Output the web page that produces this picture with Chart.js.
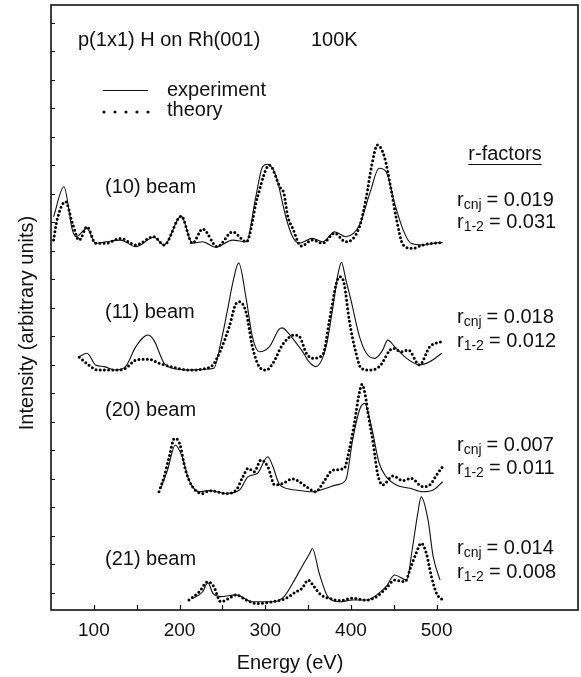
<!DOCTYPE html>
<html>
<head>
<meta charset="utf-8">
<script src="https://cdn.jsdelivr.net/npm/chart.js@4.4.1/dist/chart.umd.min.js"></script>
<style>
  html, body { margin: 0; padding: 0; background: #fff; }
  #wrap { width: 581px; height: 677px; }
</style>
</head>
<body>
<div id="wrap"><canvas id="leedChart" width="581" height="677"></canvas></div>
<script>
// LEED I(V) curves, p(1x1) H on Rh(001), beams stacked with offsets
const beamNames = ['(10) beam', '(11) beam', '(20) beam', '(21) beam'];
const rCnj = ['0.019', '0.018', '0.007', '0.014'];
const r12 = ['0.031', '0.012', '0.011', '0.008'];
const xTickLabels = [100, 200, 300, 400, 500];
const xMinorTicks = [100, 150, 200, 250, 300, 350, 400, 450, 500];

// (10) beam
const b10ExpE = [53, 65, 75, 79, 92, 102, 114, 131, 149, 170, 182, 202, 215, 227, 242, 262, 278, 289, 297, 303, 313, 316, 324, 332, 340, 355, 367, 381, 394, 410, 422, 433, 441, 451, 461, 470, 484, 496, 507];
const b10ExpI = [13.80, 14.85, 13.33, 13.10, 13.39, 12.87, 12.92, 12.98, 12.75, 13.08, 12.81, 13.82, 12.87, 12.92, 12.73, 12.98, 12.92, 14.50, 15.56, 15.64, 15.20, 14.85, 13.80, 13.10, 12.87, 13.04, 12.92, 13.27, 13.10, 13.51, 14.62, 15.50, 15.38, 14.27, 13.33, 12.87, 12.81, 12.87, 12.89];
const b10ThE = [53, 57, 67, 75, 83, 92, 102, 114, 131, 149, 170, 182, 202, 215, 227, 244, 262, 278, 291, 305, 317, 322, 326, 332, 342, 355, 367, 381, 394, 410, 418, 424, 431, 439, 447, 453, 461, 472, 484, 496, 507];
const b10ThI = [12.98, 13.68, 14.33, 13.57, 12.98, 13.45, 12.87, 12.87, 13.04, 12.81, 13.10, 12.81, 13.82, 12.87, 13.37, 12.75, 13.27, 12.92, 14.50, 15.61, 14.85, 14.60, 13.85, 13.40, 12.77, 12.98, 12.87, 13.22, 12.92, 13.45, 14.50, 15.56, 16.32, 15.91, 14.74, 13.74, 12.81, 12.69, 12.81, 12.87, 12.89];

// (11) beam
const b11ExpE = [83, 92, 102, 112, 125, 137, 149, 163, 170, 182, 192, 211, 231, 240, 248, 256, 262, 269, 278, 285, 293, 305, 316, 320, 326, 334, 344, 350, 359, 371, 379, 385, 389, 394, 400, 410, 418, 428, 437, 443, 451, 465, 480, 492, 506];
const b11ExpI = [8.89, 9.01, 8.60, 8.54, 8.42, 8.54, 9.24, 9.65, 9.47, 8.66, 8.48, 8.42, 8.45, 8.48, 9.36, 10.53, 11.46, 12.18, 10.88, 9.59, 9.06, 9.24, 9.85, 9.90, 9.75, 9.45, 9.05, 8.75, 8.54, 9.24, 10.64, 11.80, 12.20, 11.60, 10.88, 9.59, 9.01, 8.83, 9.12, 9.47, 9.24, 8.83, 8.60, 8.71, 9.01];
const b11ThE = [83, 94, 104, 125, 137, 149, 164, 176, 192, 211, 231, 239, 248, 258, 266, 270, 278, 285, 293, 301, 309, 320, 334, 340, 348, 355, 367, 375, 383, 387, 392, 398, 406, 412, 422, 433, 449, 459, 467, 480, 492, 506];
const b11ThI = [8.87, 8.60, 8.42, 8.42, 8.48, 8.77, 8.80, 8.66, 8.52, 8.42, 8.48, 8.60, 9.12, 9.94, 10.76, 10.82, 10.41, 9.24, 8.54, 8.42, 8.66, 9.30, 9.65, 9.59, 9.01, 8.83, 8.95, 10.18, 11.46, 11.70, 11.46, 10.18, 9.01, 8.48, 8.42, 8.54, 9.18, 9.06, 9.12, 8.60, 9.24, 9.42];

// (20) beam
const b20ExpE = [178, 186, 195, 203, 211, 223, 235, 254, 270, 280, 291, 303, 309, 317, 336, 355, 371, 383, 394, 402, 410, 416, 424, 433, 441, 453, 469, 484, 496, 507];
const b20ExpI = [4.25, 4.91, 5.79, 5.38, 4.56, 4.15, 4.19, 4.09, 4.21, 4.68, 4.80, 5.38, 5.03, 4.39, 4.21, 4.15, 4.27, 4.39, 4.56, 5.97, 7.02, 7.25, 6.43, 5.15, 4.68, 4.39, 4.27, 4.15, 4.21, 4.50];
const b20ThE = [176, 182, 188, 194, 200, 207, 215, 227, 235, 254, 266, 274, 280, 287, 295, 303, 311, 320, 332, 348, 359, 367, 379, 392, 398, 404, 409, 413, 417, 420, 426, 431, 437, 449, 461, 470, 484, 492, 500, 507];
const b20ThI = [4.15, 4.68, 5.38, 6.02, 5.85, 4.91, 4.33, 4.09, 4.19, 4.09, 4.21, 4.68, 4.97, 4.85, 5.26, 5.03, 4.39, 4.44, 4.60, 4.33, 4.15, 4.44, 4.91, 4.97, 5.61, 6.55, 7.50, 7.92, 7.50, 6.90, 5.85, 4.80, 4.39, 4.70, 4.54, 4.62, 4.33, 4.39, 4.74, 5.03];

// (21) beam
const b21ExpE = [215, 227, 233, 239, 248, 266, 285, 309, 322, 332, 344, 352, 355, 363, 373, 387, 402, 418, 430, 441, 451, 465, 472, 478, 482, 490, 496, 504];
const b21ExpI = [0.40, 0.64, 0.96, 0.58, 0.47, 0.53, 0.29, 0.29, 0.47, 0.94, 1.58, 1.99, 2.16, 1.29, 0.47, 0.29, 0.35, 0.35, 0.53, 0.82, 1.23, 1.05, 2.22, 3.39, 3.97, 3.16, 1.87, 1.05];
const b21ThE = [211, 223, 233, 240, 248, 258, 266, 278, 289, 309, 324, 336, 343, 350, 357, 365, 375, 387, 402, 418, 430, 441, 451, 463, 470, 476, 482, 488, 494, 500, 507];
const b21ThI = [0.35, 0.64, 0.99, 0.82, 0.29, 0.41, 0.53, 0.35, 0.23, 0.29, 0.41, 0.64, 0.76, 1.05, 0.82, 0.53, 0.41, 0.33, 0.41, 0.35, 0.47, 0.76, 1.05, 0.99, 1.52, 1.99, 2.34, 1.99, 1.17, 0.58, 0.35];

const FONT = 'Liberation Sans, Arial, Helvetica, sans-serif';

function toPoints(es, is) {
    return es.map((e, i) => ({ x: e, y: is[i] }));
}

function expSet(es, is) {
    return {
        data: toPoints(es, is),
        borderColor: '#111',
        borderWidth: 1.1,
        pointRadius: 0,
        cubicInterpolationMode: 'monotone',
        fill: false
    };
}

function theorySet(es, is) {
    return {
        data: toPoints(es, is),
        borderColor: '#000',
        borderWidth: 3,
        borderDash: [0, 4.2],
        borderCapStyle: 'round',
        pointRadius: 0,
        cubicInterpolationMode: 'monotone',
        fill: false
    };
}

// Frame, inward ticks and all annotation text
const overlayPlugin = {
    id: 'overlay',
    afterDraw(chart) {
        const ctx = chart.ctx;
        const a = chart.chartArea;
        const xs = chart.scales.x;
        const ys = chart.scales.y;
        ctx.save();

        ctx.strokeStyle = '#111';
        ctx.lineWidth = 1.6;
        ctx.strokeRect(a.left, a.top, a.right - a.left, a.bottom - a.top);

        ctx.lineWidth = 1.2;
        ctx.beginPath();
        xMinorTicks.forEach(v => {
            const px = Math.round(xs.getPixelForValue(v)) + 0.5;
            ctx.moveTo(px, a.bottom);
            ctx.lineTo(px, a.bottom - 5);
        });
        for (let v = 0.6; v < ys.max; v += 1) {
            const py = Math.round(ys.getPixelForValue(v)) + 0.5;
            ctx.moveTo(a.left, py);
            ctx.lineTo(a.left + 4, py);
        }
        ctx.stroke();

        ctx.fillStyle = '#111';
        ctx.textBaseline = 'middle';
        ctx.textAlign = 'left';

        // header
        ctx.font = `20px ${FONT}`;
        ctx.fillText('p(1x1) H on Rh(001)', 78, 40);
        ctx.fillText('100K', 311, 40);

        // legend
        ctx.beginPath();
        ctx.lineWidth = 1.1;
        ctx.moveTo(103, 90.5);
        ctx.lineTo(148, 90.5);
        ctx.stroke();
        for (let i = 0; i < 5; i++) {
            ctx.beginPath();
            ctx.arc(104 + i * 11, 112, 1.6, 0, Math.PI * 2);
            ctx.fill();
        }
        ctx.fillText('experiment', 167, 90);
        ctx.fillText('theory', 167, 110);

        // beam labels
        const labelY = [187, 312, 410, 559];
        beamNames.forEach((name, i) => ctx.fillText(name, 105, labelY[i]));

        // r-factors heading
        ctx.textAlign = 'center';
        ctx.fillText('r-factors', 505, 154);
        const hw = ctx.measureText('r-factors').width;
        ctx.beginPath();
        ctx.lineWidth = 1.2;
        ctx.moveTo(505 - hw / 2, 164.5);
        ctx.lineTo(505 + hw / 2, 164.5);
        ctx.stroke();
        ctx.textAlign = 'left';

        const rY = [[200, 222], [317, 341], [445, 468], [548, 572]];
        const drawR = (x, y, sub, val) => {
            ctx.font = `20px ${FONT}`;
            ctx.fillText('r', x, y);
            const w1 = ctx.measureText('r').width;
            ctx.font = `14px ${FONT}`;
            ctx.fillText(sub, x + w1, y + 5);
            const w2 = ctx.measureText(sub).width;
            ctx.font = `20px ${FONT}`;
            ctx.fillText('= ' + val, x + w1 + w2 + 5, y);
        };
        rY.forEach((pair, i) => {
            drawR(457, pair[0], 'cnj', rCnj[i]);
            drawR(457, pair[1], '1-2', r12[i]);
        });

        // axis titles
        ctx.font = `20px ${FONT}`;
        ctx.textAlign = 'center';
        ctx.fillText('Energy (eV)', 290, 663);
        ctx.translate(27, 323);
        ctx.rotate(-Math.PI / 2);
        ctx.fillText('Intensity (arbitrary units)', 0, 0);
        ctx.restore();
    }
};

const ctx = document.getElementById('leedChart').getContext('2d');
new Chart(ctx, {
    type: 'line',
    data: {
        datasets: [
            expSet(b10ExpE, b10ExpI), theorySet(b10ThE, b10ThI),
            expSet(b11ExpE, b11ExpI), theorySet(b11ThE, b11ThI),
            expSet(b20ExpE, b20ExpI), theorySet(b20ThE, b20ThI),
            expSet(b21ExpE, b21ExpI), theorySet(b21ThE, b21ThI)
        ]
    },
    options: {
        responsive: false,
        animation: false,
        layout: { padding: { top: 5, right: 3, left: 0, bottom: 0 } },
        plugins: {
            legend: { display: false },
            tooltip: { enabled: false }
        },
        scales: {
            x: {
                type: 'linear',
                min: 50,
                max: 665,
                grid: { display: false, drawTicks: false },
                border: { display: false },
                afterBuildTicks: scale => {
                    scale.ticks = xTickLabels.map(v => ({ value: v }));
                },
                afterFit: scale => { scale.height = 67; },
                ticks: {
                    padding: 9,
                    color: '#111',
                    font: { family: FONT, size: 19 },
                    maxRotation: 0,
                    autoSkip: false
                }
            },
            y: {
                type: 'linear',
                min: 0,
                max: 21.23,
                grid: { display: false, drawTicks: false },
                border: { display: false },
                ticks: { display: false },
                afterFit: scale => { scale.width = 51; }
            }
        }
    },
    plugins: [overlayPlugin]
});
</script>
</body>
</html>
